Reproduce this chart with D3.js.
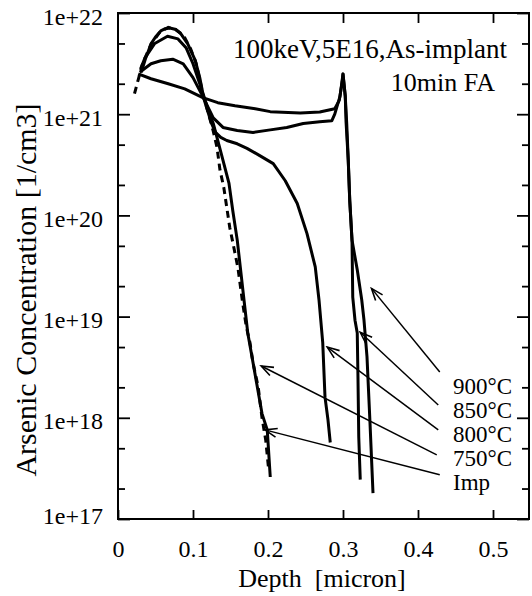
<!DOCTYPE html>
<html>
<head>
<meta charset="utf-8">
<script src="https://cdn.jsdelivr.net/npm/d3@7"></script>
<style>
  body { margin: 0; background: #fff; }
  svg { display: block; font-family: "Liberation Serif", "Times New Roman", serif; }
  svg text { font-family: "Liberation Serif", "Times New Roman", serif !important; fill: #000; }
</style>
</head>
<body>
<div id="chart"></div>
<script>
// tick values
const depthTicks = [0, 0.1, 0.2, 0.3, 0.4, 0.5];
const concTicks = [1e17, 1e18, 1e19, 1e20, 1e21, 1e22];
const concMinor = [2e17, 5e17, 2e18, 5e18, 2e19, 5e19, 2e20, 5e20, 2e21, 5e21];

// profiles: [depth (micron), concentration (1/cm3)]
const profImp = [
  [0.022, 1.6e21], [0.027, 2.2e21], [0.033, 3.2e21], [0.044, 4.9e21], [0.056, 6.5e21],
  [0.067, 7.2e21], [0.077, 6.9e21], [0.088, 5.9e21], [0.097, 4.4e21], [0.104, 3.2e21],
  [0.109, 2.2e21], [0.113, 1.6e21], [0.12, 1.05e21], [0.127, 6.8e20], [0.132, 4.7e20],
  [0.136, 2.8e20], [0.141, 1.9e20], [0.149, 7.6e19], [0.154, 5.0e19], [0.16, 3.0e19],
  [0.166, 1.4e19], [0.171, 8.0e18], [0.176, 5.5e18], [0.18, 3.5e18], [0.187, 2.0e18],
  [0.192, 1.0e18], [0.197, 6.0e17], [0.201, 3.0e17]
];
const prof750 = [
  [0.031, 2.6e21], [0.037, 3.6e21], [0.044, 4.95e21], [0.05, 5.8e21], [0.057, 6.65e21],
  [0.063, 7.0e21], [0.069, 7.1e21], [0.076, 6.9e21], [0.083, 6.35e21], [0.093, 4.95e21],
  [0.103, 3.4e21], [0.109, 2.3e21], [0.113, 1.63e21], [0.12, 1.12e21], [0.127, 8.1e20],
  [0.133, 5.5e20], [0.14, 3.5e20], [0.148, 2.07e20], [0.153, 1.12e20], [0.159, 5.7e19],
  [0.168, 1.46e19], [0.173, 6.9e18], [0.181, 3.2e18], [0.192, 1.1e18], [0.199, 7.6e17],
  [0.203, 2.6e17]
];
const prof800 = [
  [0.03, 2.8e21], [0.036, 3.6e21], [0.049, 5.0e21], [0.066, 5.9e21], [0.08, 5.55e21],
  [0.091, 4.5e21], [0.1, 3.15e21], [0.109, 2.0e21], [0.113, 1.55e21], [0.12, 1.05e21],
  [0.125, 8.0e20], [0.13, 6.6e20], [0.137, 5.9e20], [0.145, 5.5e20], [0.159, 5.1e20],
  [0.172, 4.6e20], [0.189, 3.9e20], [0.207, 3.25e20], [0.223, 2.2e20], [0.239, 1.31e20],
  [0.252, 6.6e19], [0.263, 3.1e19], [0.268, 1.46e19], [0.273, 5.5e18], [0.276, 1.6e18],
  [0.28, 9.5e17], [0.283, 5.7e17]
];
const prof850 = [
  [0.029, 2.6e21], [0.044, 3.15e21], [0.057, 3.37e21], [0.073, 3.5e21], [0.087, 3.15e21],
  [0.1, 2.3e21], [0.113, 1.5e21], [0.127, 9.2e20], [0.14, 7.4e20], [0.159, 6.9e20],
  [0.18, 6.6e20], [0.203, 7.0e20], [0.225, 7.4e20], [0.247, 8.1e20], [0.269, 8.4e20],
  [0.285, 8.6e20], [0.289, 1.0e21], [0.296, 1.5e21], [0.3, 2.5e21], [0.303, 1.5e21],
  [0.305, 8.0e20], [0.307, 3.5e20], [0.309, 1.4e20], [0.312, 5.7e19], [0.313, 1.56e19],
  [0.316, 9.2e18], [0.319, 6.9e18], [0.32, 2.4e18], [0.321, 6.5e17], [0.323, 2.45e17]
];
const prof900 = [
  [0.027, 2.5e21], [0.044, 2.24e21], [0.067, 2.0e21], [0.089, 1.78e21], [0.113, 1.46e21],
  [0.133, 1.3e21], [0.156, 1.21e21], [0.183, 1.13e21], [0.203, 1.06e21], [0.243, 1.03e21],
  [0.269, 1.05e21], [0.289, 1.13e21], [0.295, 1.37e21], [0.299, 2.1e21], [0.3, 2.5e21],
  [0.303, 1.52e21], [0.304, 8.6e20], [0.307, 3.5e20], [0.309, 1.4e20], [0.312, 5.7e19],
  [0.319, 2.9e19], [0.325, 1.46e19], [0.328, 9.2e18], [0.332, 4.0e18], [0.336, 8.9e17],
  [0.34, 1.8e17]
];

// arrow annotations
const arrowNames = ["900°C", "850°C", "800°C", "750°C", "Imp"];
const arrowFrom = [[0.429, 2.84e18], [0.427, 1.34e18], [0.427, 7.6e17], [0.425, 4.3e17], [0.429, 2.74e17]];
const arrowTo = [[0.338, 1.9e19], [0.323, 7.0e18], [0.279, 5.0e18], [0.191, 3.25e18], [0.196, 7.6e17]];

const width = 532, height = 596;
const margin = { top: 13, right: 3, bottom: 77, left: 118 };
const innerWidth = width - margin.left - margin.right;
const innerHeight = height - margin.top - margin.bottom;

const x = d3.scaleLinear()
  .domain([0, 0.548])
  .range([0, innerWidth]);

const y = d3.scaleLog()
  .domain([1e17, 1e22])
  .range([innerHeight, 0]);

const svg = d3.select("#chart")
  .append("svg")
    .attr("width", width)
    .attr("height", height);

const g = svg.append("g")
    .attr("transform", `translate(${margin.left},${margin.top})`);

// left axis, ticks pointing inward
const leftAxis = g.append("g")
  .call(d3.axisLeft(y)
    .tickValues(concTicks)
    .tickFormat(d => "1e+" + Math.round(Math.log10(d)))
    .tickSizeInner(-12).tickSizeOuter(0).tickPadding(15));
leftAxis.selectAll("text")
  .style("font-size", "24px")
  .attr("dy", null)
  .attr("y", d => d === 1e17 ? 4 : 11);

g.append("g")
  .call(d3.axisLeft(y).tickValues(concMinor).tickFormat("").tickSizeInner(-7).tickSizeOuter(0));

// right axis
g.append("g")
  .attr("transform", `translate(${innerWidth},0)`)
  .call(d3.axisRight(y).tickValues(concTicks).tickFormat("").tickSizeInner(-12).tickSizeOuter(0));
g.append("g")
  .attr("transform", `translate(${innerWidth},0)`)
  .call(d3.axisRight(y).tickValues(concMinor).tickFormat("").tickSizeInner(-7).tickSizeOuter(0));

// bottom and top axes
const bottomAxis = g.append("g")
  .attr("transform", `translate(0,${innerHeight})`)
  .call(d3.axisBottom(x)
    .tickValues(depthTicks)
    .tickFormat(d => d === 0 ? "0" : d3.format(".1f")(d))
    .tickSizeInner(-9).tickSizeOuter(0).tickPadding(22));
bottomAxis.selectAll("text")
  .style("font-size", "24px")
  .attr("dy", null)
  .attr("y", 38);

g.append("g")
  .call(d3.axisTop(x).tickValues(depthTicks.slice(1)).tickFormat("").tickSizeInner(-10).tickSizeOuter(0));

g.selectAll(".domain").remove();
g.selectAll("g").attr("font-family", null).attr("font-size", null);
g.selectAll(".tick line").attr("stroke", "#000").attr("stroke-width", 1.8);

// frame
g.append("rect")
  .attr("width", innerWidth)
  .attr("height", innerHeight)
  .attr("fill", "none")
  .attr("stroke", "#000")
  .attr("stroke-width", 2);

// profiles
const line = d3.line()
  .x(d => x(d[0]))
  .y(d => y(d[1]));

[prof900, prof850, prof800, prof750].forEach(p => {
  g.append("path")
    .datum(p)
    .attr("d", line)
    .attr("fill", "none")
    .attr("stroke", "#000")
    .attr("stroke-width", 3)
    .attr("stroke-linejoin", "round");
});

g.append("path")
  .datum(profImp)
  .attr("d", line)
  .attr("fill", "none")
  .attr("stroke", "#000")
  .attr("stroke-width", 3)
  .attr("stroke-dasharray", "7,5");

// arrowhead marker (open V pointing at the curve)
svg.append("defs").append("marker")
    .attr("id", "head")
    .attr("viewBox", "-2 -7 16 14")
    .attr("refX", 0).attr("refY", 0)
    .attr("markerWidth", 16).attr("markerHeight", 14)
    .attr("markerUnits", "userSpaceOnUse")
    .attr("orient", "auto")
  .append("path")
    .attr("d", "M12,-4.5L0,0L12,4.5")
    .attr("fill", "none")
    .attr("stroke", "#000")
    .attr("stroke-width", 1.6);

g.selectAll(".arrow")
  .data(arrowNames)
  .join("line")
    .attr("class", "arrow")
    .attr("x1", (d, i) => x(arrowTo[i][0]))
    .attr("y1", (d, i) => y(arrowTo[i][1]))
    .attr("x2", (d, i) => x(arrowFrom[i][0]))
    .attr("y2", (d, i) => y(arrowFrom[i][1]))
    .attr("stroke", "#000")
    .attr("stroke-width", 1.5)
    .attr("marker-start", "url(#head)");

g.selectAll(".arrow-label")
  .data(arrowNames)
  .join("text")
    .attr("class", "arrow-label")
    .attr("x", 335)
    .attr("y", (d, i) => 381 + i * 24)
    .style("font-size", "23px")
    .text(d => d);

// annotation
g.append("text")
  .attr("x", 389).attr("y", 45)
  .attr("text-anchor", "end")
  .style("font-size", "27px")
  .text("100keV,5E16,As-implant");
g.append("text")
  .attr("x", 377).attr("y", 78)
  .attr("text-anchor", "end")
  .style("font-size", "26px")
  .text("10min FA");

// axis titles
svg.append("text")
  .attr("x", 322).attr("y", 587)
  .attr("text-anchor", "middle")
  .style("font-size", "26px")
  .style("white-space", "pre")
  .text("Depth  [micron]");

svg.append("text")
  .attr("transform", "translate(36,290) rotate(-90)")
  .attr("text-anchor", "middle")
  .style("font-size", "30px")
  .text("Arsenic Concentration [1/cm3]");
</script>
</body>
</html>
